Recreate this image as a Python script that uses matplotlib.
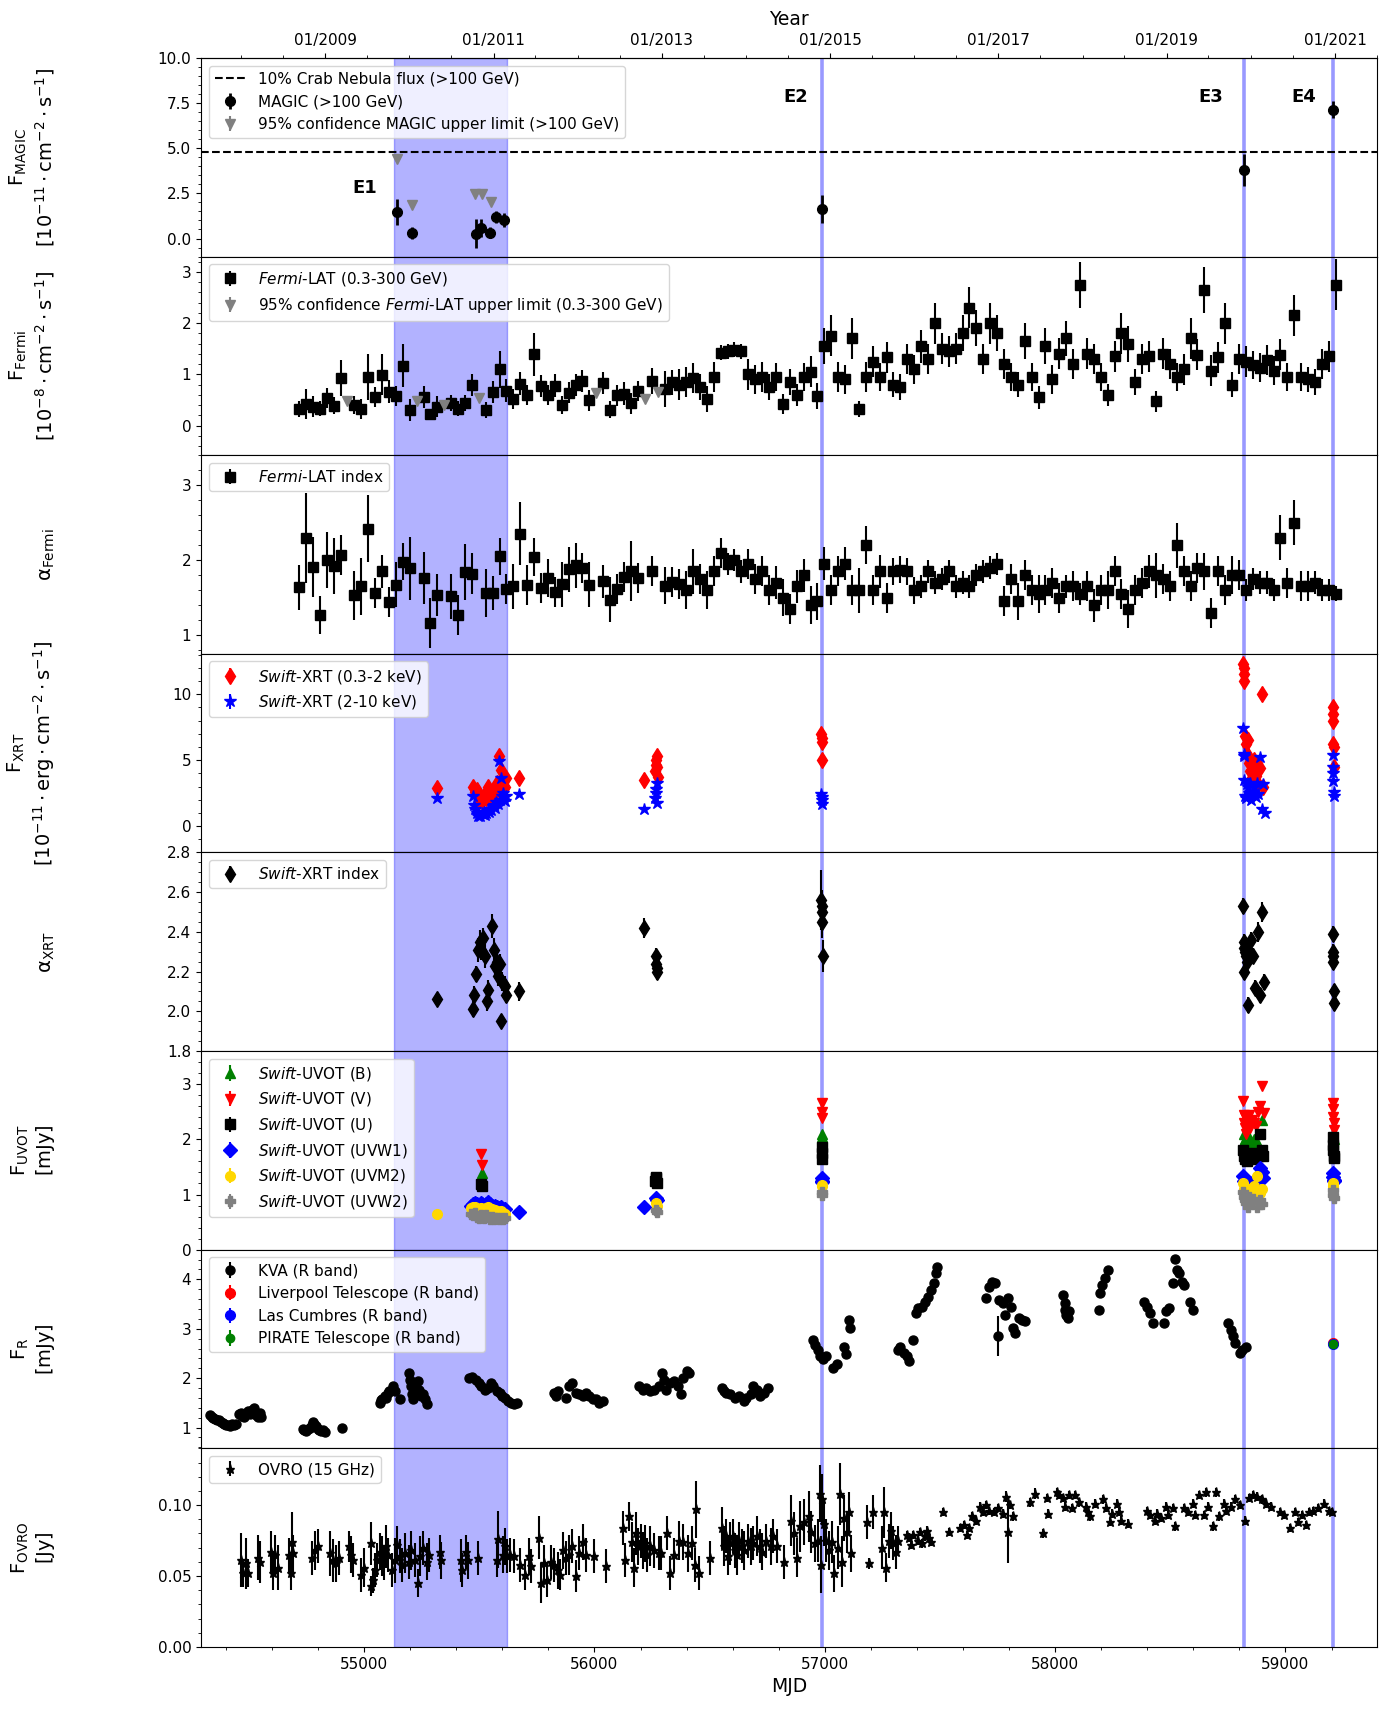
import datetime
import matplotlib
matplotlib.use("Agg")
import matplotlib.pyplot as plt
from matplotlib.ticker import AutoMinorLocator, MultipleLocator, FormatStrFormatter

plt.rcParams['font.family'] = ['DejaVu Sans']
plt.rcParams['font.size'] = 11
plt.rcParams['mathtext.fontset'] = 'dejavusans'

# ---------------- flare periods ----------------
e1_start, e1_end = 55130, 55621
event_mjd = [56990, 58819, 59208]
event_labels = ['E1', 'E2', 'E3', 'E4']
event_label_mjd = [55003, 56876, 58677, 59078]
event_label_y = [2.8, 7.82, 7.82, 7.82]

# ---------------- MAGIC ----------------
crab_10pct = 4.78
magic_mjd = [55145, 55210, 55484, 55507, 55546, 55571, 55606, 56987, 58819, 59208]
magic_flux = [1.48, 0.31, 0.26, 0.59, 0.31, 1.20, 1.01, 1.64, 3.80, 7.14]
magic_err = [0.73, 0.35, 0.80, 0.50, 0.30, 0.35, 0.40, 0.77, 0.90, 0.45]
magic_ul_mjd = [55145, 55210, 55483, 55510, 55550]
magic_ul = [4.41, 1.88, 2.44, 2.44, 2.03]

# ---------------- Fermi-LAT (monthly bins) ----------------
fermi_mjd = [54718, 54748, 54778, 54808, 54838, 54868, 54898, 54958, 54988, 55018,
             55048, 55078, 55108, 55138, 55168, 55198, 55258, 55288, 55318, 55378,
             55408, 55438, 55468, 55528, 55558, 55588, 55618, 55648, 55678, 55708,
             55738, 55768, 55798, 55828, 55858, 55888, 55918, 55948, 55978, 56038,
             56068, 56098, 56128, 56158, 56188, 56248, 56308, 56338, 56368, 56398,
             56428,
             56458, 56488, 56518, 56548, 56578, 56608, 56638, 56668, 56698, 56728,
             56758, 56788, 56818, 56848, 56878, 56908, 56938, 56968, 56998, 57028,
             57058, 57088, 57118, 57148, 57178, 57208, 57238, 57268, 57298, 57328,
             57358, 57388, 57418, 57448, 57478, 57508, 57538, 57568, 57598, 57628,
             57658, 57688, 57718, 57748, 57778, 57808, 57838, 57868, 57898, 57928,
             57958, 57988, 58018, 58048, 58078, 58108, 58138, 58168, 58198, 58228,
             58258, 58288, 58318, 58348, 58378, 58408, 58438, 58468, 58498, 58528,
             58558, 58588, 58618, 58648, 58678, 58708, 58738, 58768, 58798, 58828,
             58858, 58888, 58918, 58948, 58978, 59008, 59038, 59068, 59098, 59128,
             59158, 59188, 59218]
fermi_flux = [0.32, 0.42, 0.37, 0.33, 0.54, 0.39, 0.93, 0.40, 0.32, 0.95,
              0.56, 0.99, 0.66, 0.58, 1.17, 0.30, 0.56, 0.22, 0.37, 0.44,
              0.33, 0.44, 0.79, 0.30, 0.65, 1.10, 0.68, 0.52, 0.82, 0.60,
              1.39, 0.77, 0.60, 0.78, 0.40, 0.64, 0.79, 0.87, 0.49, 0.83,
              0.31, 0.59, 0.62, 0.43, 0.67, 0.87, 0.72, 0.84, 0.80, 0.85,
              0.93,
              0.75, 0.52, 0.95, 1.42, 1.45, 1.48, 1.45, 1.00, 0.90, 0.95,
              0.75, 0.95, 0.42, 0.85, 0.60, 0.95, 1.05, 0.58, 1.55, 1.75,
              0.95, 0.90, 1.70, 0.32, 0.95, 1.25, 0.95, 1.33, 0.80, 0.75,
              1.30, 1.10, 1.55, 1.30, 2.00, 1.50, 1.45, 1.50, 1.80, 2.30,
              1.90, 1.30, 2.00, 1.80, 1.20, 0.95, 0.80, 1.65, 0.95, 0.55,
              1.55, 0.90, 1.40, 1.70, 1.20, 2.75, 1.40, 1.30, 0.95, 0.60,
              1.35, 1.80, 1.60, 0.85, 1.30, 1.35, 0.47, 1.40, 1.20, 0.95,
              1.10, 1.70, 1.38, 2.65, 1.07, 1.33, 2.00, 0.80, 1.30, 1.25,
              1.18, 1.13, 1.28, 1.07, 1.38, 0.95, 2.15, 0.95, 0.90, 0.85,
              1.20, 1.35, 2.75]
fermi_flux_err = [0.16, 0.30, 0.20, 0.15, 0.20, 0.16, 0.35, 0.18, 0.20, 0.45,
                  0.20, 0.40, 0.22, 0.20, 0.42, 0.22, 0.22, 0.10, 0.20, 0.16,
                  0.15, 0.16, 0.22, 0.15, 0.22, 0.36, 0.22, 0.20, 0.22, 0.20,
                  0.42, 0.22, 0.20, 0.22, 0.18, 0.20, 0.22, 0.22, 0.20, 0.22,
                  0.16, 0.20, 0.22, 0.20, 0.20, 0.25, 0.35, 0.25, 0.30, 0.30,
                  0.30,
                  0.25, 0.25, 0.30, 0.15, 0.15, 0.15, 0.15, 0.30, 0.28, 0.30,
                  0.25, 0.28, 0.20, 0.25, 0.22, 0.28, 0.30, 0.25, 0.35, 0.40,
                  0.30, 0.28, 0.40, 0.15, 0.30, 0.30, 0.28, 0.30, 0.25, 0.25,
                  0.30, 0.28, 0.32, 0.30, 0.40, 0.30, 0.30, 0.30, 0.35, 0.40,
                  0.35, 0.30, 0.40, 0.35, 0.30, 0.28, 0.25, 0.35, 0.28, 0.22,
                  0.35, 0.28, 0.30, 0.35, 0.30, 0.45, 0.30, 0.30, 0.28, 0.22,
                  0.30, 0.40, 0.35, 0.25, 0.30, 0.30, 0.20, 0.30, 0.30, 0.28,
                  0.30, 0.40, 0.30, 0.45, 0.30, 0.30, 0.40, 0.25, 0.30, 0.30,
                  0.28, 0.28, 0.30, 0.28, 0.30, 0.28, 0.40, 0.28, 0.25, 0.25,
                  0.30, 0.30, 0.50]
fermi_ul_mjd = [54928, 55228, 55348, 55498, 56008, 56218, 56278]
fermi_ul = [0.47, 0.47, 0.40, 0.54, 0.64, 0.51, 0.66]
fermi_index = [1.64, 2.30, 1.91, 1.27, 2.00, 1.92, 2.07, 1.53, 1.65, 2.42,
               1.56, 1.85, 1.44, 1.67, 1.98, 1.89, 1.76, 1.16, 1.53, 1.52,
               1.27, 1.84, 1.82, 1.56, 1.56, 2.05, 1.61, 1.65, 2.35, 1.67,
               2.04, 1.63, 1.76, 1.58, 1.68, 1.88, 1.93, 1.90, 1.67, 1.72,
               1.47, 1.62, 1.78, 1.85, 1.76, 1.86, 1.66, 1.71, 1.68, 1.60,
               1.85,
               1.75, 1.60, 1.85, 2.10, 1.95, 2.00, 1.85, 1.95, 1.75, 1.85,
               1.60, 1.70, 1.50, 1.35, 1.65, 1.80, 1.40, 1.45, 1.95, 1.60,
               1.85, 1.95, 1.60, 1.60, 2.20, 1.60, 1.85, 1.50, 1.85, 1.87,
               1.85, 1.60, 1.65, 1.85, 1.70, 1.75, 1.85, 1.65, 1.70, 1.65,
               1.80, 1.85, 1.90, 1.95, 1.45, 1.75, 1.45, 1.80, 1.60, 1.55,
               1.60, 1.70, 1.50, 1.65, 1.65, 1.55, 1.65, 1.40, 1.60, 1.60,
               1.85, 1.55, 1.35, 1.60, 1.70, 1.85, 1.80, 1.75, 1.65, 2.20,
               1.85, 1.65, 1.90, 1.85, 1.30, 1.85, 1.60, 1.80, 1.80, 1.60,
               1.75, 1.70, 1.70, 1.60, 2.30, 1.70, 2.50, 1.65, 1.65, 1.70,
               1.60, 1.60, 1.55]
fermi_index_err = [0.30, 0.60, 0.40, 0.25, 0.37, 0.37, 0.27, 0.33, 0.38, 0.45,
                   0.20, 0.22, 0.20, 0.30, 0.25, 0.42, 0.35, 0.33, 0.28, 0.30,
                   0.27, 0.37, 0.27, 0.32, 0.23, 0.25, 0.20, 0.30, 0.42, 0.27,
                   0.25, 0.20, 0.25, 0.20, 0.30, 0.30, 0.30, 0.20, 0.30, 0.22,
                   0.30, 0.20, 0.20, 0.40, 0.20, 0.20, 0.25, 0.20, 0.20, 0.25,
                   0.30,
                   0.20, 0.25, 0.20, 0.20, 0.15, 0.15, 0.15, 0.20, 0.20, 0.20,
                   0.20, 0.22, 0.25, 0.20, 0.22, 0.22, 0.25, 0.25, 0.22, 0.20,
                   0.20, 0.22, 0.20, 0.30, 0.25, 0.20, 0.22, 0.20, 0.18, 0.18,
                   0.18, 0.18, 0.15, 0.15, 0.15, 0.15, 0.15, 0.15, 0.15, 0.15,
                   0.15, 0.15, 0.15, 0.15, 0.20, 0.20, 0.25, 0.20, 0.20, 0.25,
                   0.20, 0.20, 0.20, 0.15, 0.20, 0.15, 0.20, 0.22, 0.20, 0.25,
                   0.20, 0.20, 0.25, 0.20, 0.20, 0.22, 0.30, 0.20, 0.20, 0.30,
                   0.20, 0.20, 0.20, 0.25, 0.20, 0.20, 0.20, 0.25, 0.20, 0.15,
                   0.15, 0.15, 0.15, 0.15, 0.30, 0.20, 0.30, 0.20, 0.20, 0.15,
                   0.15, 0.15, 0.10]

# ---------------- Swift-XRT ----------------
xrt_flux_err = 0.15
xrt_soft_mjd = [55317, 55474, 55481, 55489, 55495, 55501, 55507, 55513, 55519, 55525,
                55531, 55540, 55546, 55552, 55558, 55563, 55567, 55571, 55577, 55582,
                55587, 55590, 55594, 55599, 55604, 55610, 55616, 55672, 56217, 56265,
                56267, 56269, 56270, 56272, 56274, 56984, 56986, 56988, 56990, 58816,
                58818, 58820, 58822, 58825, 58829, 58833, 58837, 58842, 58847, 58852,
                58858, 58864, 58870, 58876, 58882, 58889, 58896, 58903, 59205, 59206,
                59207, 59208, 59209, 59210]
xrt_soft = [2.88, 2.95, 2.60, 2.75, 2.30, 1.90, 2.10, 1.87, 2.20, 2.40,
            2.10, 3.00, 2.50, 2.25, 2.60, 2.80, 2.50, 3.00, 3.25, 2.90,
            5.28, 3.10, 4.27, 3.40, 3.26, 3.00, 3.64, 3.64, 3.46, 4.20,
            4.60, 5.00, 5.28, 4.50, 3.70, 7.00, 6.70, 6.40, 5.00, 12.3,
            12.0, 11.5, 11.0, 6.80, 6.20, 5.50, 6.50, 4.80, 4.20, 3.60,
            4.50, 5.00, 3.80, 4.80, 3.20, 4.40, 10.0, 3.00, 9.00, 8.50,
            8.00, 6.20, 6.00, 4.50]
xrt_hard_mjd = [55317, 55474, 55478, 55483, 55489, 55494, 55500, 55505, 55510, 55515,
                55520, 55525, 55530, 55536, 55542, 55548, 55553, 55558, 55563, 55568,
                55574, 55580, 55587, 55590, 55594, 55599, 55604, 55610, 55616, 55672,
                56217, 56265, 56267, 56269, 56270, 56272, 56984, 56986, 56988, 56990,
                58816, 58818, 58820, 58822, 58825, 58829, 58833, 58837, 58842, 58847,
                58852, 58858, 58864, 58870, 58876, 58882, 58889, 58896, 58903, 58912,
                59205, 59206, 59207, 59208, 59209, 59210]
xrt_hard = [2.12, 2.25, 1.62, 1.30, 0.98, 0.75, 0.85, 0.73, 1.00, 0.90,
            1.10, 0.86, 1.00, 1.24, 1.10, 1.30, 1.20, 1.49, 1.60, 1.40,
            1.80, 1.70, 4.90, 2.00, 3.64, 2.25, 2.50, 1.87, 2.30, 2.45,
            1.29, 2.10, 2.50, 2.80, 3.26, 1.75, 2.40, 2.00, 1.70, 2.20,
            7.40, 5.50, 5.30, 3.50, 2.30, 2.10, 3.20, 3.00, 2.50, 3.30,
            2.00, 2.60, 3.00, 2.20, 3.30, 2.40, 5.20, 1.30, 3.20, 1.00,
            5.40, 4.50, 4.00, 3.40, 2.60, 2.30]
xrt_idx_mjd = [55317, 55474, 55478, 55486, 55493, 55503, 55509, 55517, 55523, 55532,
               55536, 55556, 55563, 55567, 55575, 55583, 55590, 55598, 55596, 55610,
               55618, 55672, 56217, 56267, 56269, 56270, 56272, 56984, 56986, 56988,
               56990, 56992, 58816, 58818, 58820, 58822, 58825, 58829, 58833, 58837,
               58842, 58850, 58858, 58866, 58880, 58890, 58900, 58906, 59205, 59206,
               59207, 59208, 59209, 59210]
xrt_idx = [2.06, 2.01, 2.08, 2.19, 2.31, 2.35, 2.31, 2.37, 2.28, 2.05,
           2.11, 2.43, 2.31, 2.23, 2.25, 2.18, 2.24, 2.15, 1.95, 2.13,
           2.08, 2.10, 2.42, 2.28, 2.24, 2.20, 2.22, 2.56, 2.53, 2.50,
           2.45, 2.28, 2.53, 2.35, 2.32, 2.20, 2.30, 2.28, 2.25, 2.03,
           2.30, 2.36, 2.28, 2.12, 2.40, 2.08, 2.50, 2.15, 2.39, 2.30,
           2.28, 2.25, 2.10, 2.04]
xrt_idx_err = [0.03, 0.04, 0.05, 0.04, 0.06, 0.06, 0.05, 0.05, 0.06, 0.05,
               0.05, 0.06, 0.06, 0.05, 0.06, 0.05, 0.05, 0.05, 0.03, 0.05,
               0.04, 0.05, 0.05, 0.04, 0.04, 0.04, 0.04, 0.15, 0.08, 0.08,
               0.08, 0.08, 0.04, 0.04, 0.04, 0.04, 0.04, 0.04, 0.04, 0.04,
               0.04, 0.04, 0.04, 0.04, 0.05, 0.04, 0.05, 0.04, 0.04, 0.04,
               0.04, 0.04, 0.04, 0.04]

# ---------------- Swift-UVOT ----------------
uvot_err = 0.05
uvot_b_mjd = [55510, 56988, 56990, 58818, 58822, 58826, 58832, 58840, 58850, 58862,
              58876, 58900, 59207, 59209]
uvot_b = [1.39, 2.10, 2.05, 2.10, 1.95, 2.00, 1.98, 2.05, 1.90, 2.00,
          1.95, 2.35, 2.10, 2.00]
uvot_v_mjd = [55508, 55512, 56986, 56988, 56990, 58816, 58818, 58820, 58823, 58826,
              58830, 58835, 58840, 58848, 58855, 58862, 58870, 58880, 58890, 58900,
              58905, 59205, 59206, 59207, 59209, 59210]
uvot_v = [1.73, 1.54, 2.66, 2.50, 2.38, 2.70, 2.45, 2.30, 2.20, 2.40,
          2.10, 2.30, 2.45, 2.20, 2.35, 2.30, 2.25, 2.50, 2.60, 2.96,
          2.47, 2.66, 2.55, 2.40, 2.30, 2.17]
uvot_u_mjd = [55508, 55512, 56265, 56267, 56269, 56271, 56986, 56988, 56990, 58816,
              58820, 58824, 58828, 58834, 58840, 58848, 58856, 58864, 58872, 58880,
              58888, 58898, 58904, 59205, 59206, 59207, 59209, 59210]
uvot_u = [1.19, 1.15, 1.25, 1.32, 1.30, 1.20, 1.87, 1.75, 1.65, 1.80,
          1.70, 1.65, 1.75, 1.60, 1.70, 1.68, 1.72, 1.65, 1.75, 1.70,
          2.10, 1.80, 1.70, 2.05, 1.90, 1.80, 1.70, 1.66]
uvot_w1_mjd = [55466, 55474, 55482, 55490, 55498, 55506, 55514, 55522, 55530, 55538,
               55546, 55554, 55562, 55570, 55578, 55586, 55594, 55602, 55610, 55672,
               56217, 56269, 56271, 56986, 56988, 56990, 58816, 58820, 58824, 58830,
               58838, 58846, 58856, 58866, 58876, 58888, 58898, 58904, 59205, 59207,
               59209, 59210]
uvot_w1 = [0.80, 0.83, 0.85, 0.82, 0.80, 0.84, 0.82, 0.80, 0.83, 0.86,
           0.82, 0.80, 0.78, 0.80, 0.77, 0.76, 0.78, 0.74, 0.73, 0.69,
           0.78, 0.94, 0.90, 1.30, 1.25, 1.22, 1.33, 1.25, 1.20, 1.18,
           1.22, 1.15, 1.20, 1.25, 1.30, 1.48, 1.40, 1.30, 1.39, 1.32,
           1.27, 1.25]
uvot_m2_mjd = [55317, 55466, 55474, 55482, 55490, 55498, 55506, 55514, 55522, 55530,
               55538, 55546, 55554, 55562, 55570, 55578, 55586, 55594, 55602, 55610,
               56269, 56271, 56987, 56989, 58816, 58820, 58826, 58832, 58840, 58850,
               58862, 58876, 58890, 58900, 59206, 59208]
uvot_m2 = [0.65, 0.75, 0.77, 0.78, 0.74, 0.72, 0.76, 0.74, 0.73, 0.75,
           0.78, 0.74, 0.73, 0.71, 0.72, 0.70, 0.68, 0.70, 0.66, 0.65,
           0.85, 0.80, 1.18, 1.15, 1.20, 1.10, 1.05, 1.00, 1.10, 1.05,
           1.15, 1.33, 1.03, 1.10, 1.20, 1.15]
uvot_w2_mjd = [55466, 55474, 55482, 55490, 55498, 55506, 55514, 55522, 55530, 55538,
               55546, 55554, 55562, 55570, 55578, 55586, 55594, 55602, 55610, 56269,
               56271, 56987, 56989, 58816, 58820, 58824, 58830, 58836, 58842, 58850,
               58860, 58876, 58888, 58900, 59206, 59208, 59210]
uvot_w2 = [0.64, 0.62, 0.66, 0.60, 0.58, 0.63, 0.60, 0.57, 0.62, 0.59,
           0.56, 0.60, 0.55, 0.58, 0.57, 0.55, 0.58, 0.56, 0.57, 0.72,
           0.68, 1.05, 1.00, 1.05, 0.95, 0.90, 0.85, 0.78, 0.95, 0.88,
           0.92, 0.78, 0.90, 0.82, 1.09, 1.00, 0.94]

# ---------------- optical R band ----------------
kva_err = 0.03
kva_mjd = [54330, 54338, 54346, 54354, 54362, 54370, 54378, 54386, 54394, 54402,
           54410, 54418, 54426, 54434, 54442,
           54456, 54464, 54472, 54480, 54488, 54496, 54504, 54512, 54520, 54526,
           54532, 54540, 54546, 54552,
           54733, 54740, 54748, 54756, 54764, 54772, 54778, 54784, 54790, 54798,
           54806, 54814, 54822, 54830, 54902,
           55067, 55072, 55077, 55090, 55096, 55102, 55110, 55125, 55135, 55158,
           55193, 55199, 55203, 55207, 55212, 55222, 55232, 55238, 55245, 55257,
           55265, 55274,
           55455, 55470, 55484, 55497, 55509, 55523, 55536, 55552, 55561, 55575,
           55590, 55600, 55610, 55625, 55639, 55652, 55664,
           55823, 55833, 55843, 55877, 55891, 55904, 55920, 55935, 55949, 55963,
           55978, 55994, 56007, 56021, 56036,
           56195, 56211, 56226, 56240, 56259, 56279, 56292, 56304, 56312, 56327,
           56347, 56362, 56376, 56385, 56401, 56409,
           56552, 56561, 56571, 56590, 56610, 56629, 56649, 56658, 56678, 56687,
           56707, 56717, 56736, 56755,
           56949, 56959, 56969, 56978, 56994, 57007, 57036, 57052, 57085, 57091,
           57104, 57110,
           57318, 57327, 57343, 57356, 57366, 57385, 57395, 57405, 57420, 57434,
           57447, 57463, 57473, 57482, 57488,
           57699, 57711, 57725, 57738, 57758, 57773, 57783, 57796, 57808, 57816,
           57827, 57841, 57855, 57870,
           58035, 58041, 58045, 58048, 58054, 58060,
           58190, 58196, 58204, 58215, 58229,
           58384, 58397, 58413, 58425, 58471, 58481, 58494,
           58510, 58520, 58529, 58539, 58549, 58558, 58584, 58597,
           58752, 58762, 58772, 58781, 58801, 58810, 58830]
kva_flux = [1.25, 1.22, 1.20, 1.17, 1.15, 1.16, 1.12, 1.10, 1.08, 1.06,
            1.05, 1.04, 1.07, 1.05, 1.07,
            1.27, 1.30, 1.24, 1.22, 1.30, 1.33, 1.27, 1.36, 1.40, 1.32,
            1.25, 1.22, 1.30, 1.22,
            0.98, 0.95, 0.93, 0.97, 1.00, 1.05, 1.12, 1.08, 1.03, 0.98,
            0.95, 0.93, 0.96, 0.92, 1.00,
            1.50, 1.55, 1.57, 1.64, 1.60, 1.69, 1.74, 1.84, 1.74, 1.58,
            2.10, 1.97, 1.84, 1.67, 1.57, 1.80, 1.94, 1.77, 1.64, 1.67,
            1.57, 1.47,
            2.00, 2.02, 1.97, 1.90, 1.84, 1.77, 1.80, 1.90, 1.84, 1.74,
            1.70, 1.64, 1.60, 1.54, 1.50, 1.47, 1.50,
            1.70, 1.64, 1.74, 1.60, 1.84, 1.90, 1.70, 1.67, 1.64, 1.70,
            1.64, 1.58, 1.57, 1.50, 1.54,
            1.84, 1.77, 1.80, 1.74, 1.77, 1.84, 2.10, 1.97, 1.77, 1.90,
            1.94, 1.84, 1.67, 2.00, 2.14, 2.10,
            1.80, 1.74, 1.70, 1.67, 1.60, 1.64, 1.54, 1.60, 1.67, 1.84,
            1.77, 1.64, 1.70, 1.80,
            2.78, 2.68, 2.58, 2.44, 2.38, 2.44, 2.21, 2.28, 2.64, 2.48,
            3.18, 3.01,
            2.58, 2.64, 2.51, 2.44, 2.34, 2.78, 3.32, 3.42, 3.45, 3.55,
            3.65, 3.79, 3.92, 4.12, 4.26,
            3.62, 3.85, 3.95, 3.92, 3.58, 3.52, 3.28, 3.62, 3.45, 3.01,
            2.91, 3.21, 3.18, 3.15,
            3.68, 3.52, 3.38, 3.28, 3.21, 3.35,
            3.38, 3.72, 3.89, 4.02, 4.19,
            3.55, 3.45, 3.32, 3.11, 3.11, 3.35, 3.42,
            3.92, 4.42, 4.19, 4.12, 3.95, 3.89, 3.55, 3.38,
            3.11, 2.98, 2.85, 2.71, 2.51, 2.58, 2.64]
kva_wide_mjd = [57750]
kva_wide = [2.85]
kva_wide_err = [0.40]
liverpool_mjd, liverpool = [59205], [2.72]
lco_mjd, lco = [59205], [2.70]
pirate_mjd, pirate = [59206], [2.69]

# ---------------- OVRO 15 GHz ----------------
ovro_mjd = [54466, 54476, 54489, 54497, 54538, 54549, 54594, 54606, 54615, 54625,
            54675, 54683, 54689, 54693, 54772, 54786, 54799, 54854, 54863, 54877,
            54893, 54935, 54943, 54951, 54986, 54999, 55028, 55032, 55038, 55048,
            55057, 55067, 55077, 55086, 55096, 55106, 55121, 55135, 55145, 55154,
            55164, 55179, 55193, 55203, 55222, 55232, 55242, 55257, 55271, 55280,
            55329, 55333, 55420, 55426, 55441, 55451, 55493, 55575, 55583, 55602,
            55610, 55622, 55633, 55649, 55678, 55697, 55716, 55726, 55759, 55769,
            55780, 55794, 55813, 55823, 55843, 55852, 55862, 55877, 55891, 55904,
            55920, 55935, 55949, 55963, 55998, 56052, 56124, 56133, 56149, 56162,
            56172, 56182, 56191, 56201, 56211, 56221, 56230, 56240, 56259, 56279,
            56288, 56317, 56327, 56347, 56366, 56385, 56405, 56424,
            56435, 56439, 56455, 56503, 56552, 56561, 56571, 56581, 56590, 56600,
            56610, 56620, 56629, 56639, 56649, 56668, 56678, 56687, 56707, 56717,
            56726, 56746, 56765, 56775, 56794, 56823, 56852, 56866, 56881, 56891,
            56910, 56930, 56939, 56959, 56969, 56978, 56982, 56988, 56998, 57007,
            57017, 57033, 57040, 57056, 57066, 57075, 57085, 57095, 57104, 57114,
            57182, 57192, 57211, 57250, 57256, 57265, 57279, 57288, 57298, 57308,
            57318, 57356, 57366, 57376, 57385, 57405, 57414, 57424, 57434, 57444,
            57453, 57463, 57515, 57540, 57589, 57603, 57618, 57628, 57641, 57657,
            57672, 57686, 57699, 57715, 57734, 57754, 57773, 57785, 57796, 57804,
            57816, 57893, 57913, 57948, 57963, 57967, 58006, 58016, 58035, 58045,
            58060, 58074, 58087, 58103, 58132, 58142, 58151, 58171, 58209, 58219,
            58238, 58248, 58268, 58277, 58287, 58316, 58397, 58413, 58432, 58442,
            58461, 58481, 58490, 58510, 58520, 58558, 58578, 58597, 58607, 58626,
            58646, 58655, 58665, 58684, 58700, 58713, 58733, 58743, 58762, 58781,
            58801, 58824, 58840, 58859, 58878, 58898, 58917, 58936, 58975, 58995,
            59018, 59043, 59053, 59072, 59088, 59101, 59121, 59140, 59169, 59188,
            59204]
ovro_flux = [0.061, 0.052, 0.059, 0.052, 0.063, 0.060, 0.067, 0.052, 0.065, 0.056,
             0.065, 0.052, 0.074, 0.066, 0.063, 0.068, 0.071, 0.066, 0.061, 0.059,
             0.063, 0.071, 0.065, 0.061, 0.051, 0.056, 0.073, 0.043, 0.047, 0.054,
             0.061, 0.067, 0.064, 0.059, 0.071, 0.065, 0.054, 0.061, 0.072, 0.064,
             0.058, 0.066, 0.060, 0.068, 0.061, 0.045, 0.064, 0.070, 0.060, 0.065,
             0.067, 0.061, 0.061, 0.054, 0.067, 0.061, 0.063, 0.061, 0.076, 0.065,
             0.071, 0.064, 0.065, 0.064, 0.058, 0.051, 0.064, 0.057, 0.077, 0.045,
             0.059, 0.047, 0.060, 0.058, 0.054, 0.051, 0.068, 0.063, 0.065, 0.071,
             0.050, 0.066, 0.074, 0.065, 0.064, 0.057, 0.084, 0.061, 0.092, 0.074,
             0.056, 0.080, 0.071, 0.075, 0.068, 0.073, 0.065, 0.071, 0.068, 0.066,
             0.066, 0.080, 0.052, 0.065, 0.075, 0.074, 0.066, 0.073,
             0.058, 0.097, 0.052, 0.063, 0.084, 0.071, 0.078, 0.064, 0.073, 0.078,
             0.068, 0.065, 0.075, 0.071, 0.068, 0.075, 0.071, 0.073, 0.078, 0.071,
             0.067, 0.075, 0.071, 0.078, 0.071, 0.060, 0.089, 0.080, 0.063, 0.085,
             0.088, 0.092, 0.081, 0.073, 0.075, 0.108, 0.058, 0.104, 0.087, 0.075,
             0.068, 0.074, 0.052, 0.070, 0.108, 0.060, 0.091, 0.081, 0.095, 0.066,
             0.088, 0.059, 0.095, 0.070, 0.095, 0.056, 0.075, 0.082, 0.073, 0.067,
             0.075, 0.079, 0.077, 0.072, 0.079, 0.075, 0.081, 0.073, 0.078, 0.082,
             0.077, 0.074, 0.095, 0.081, 0.084, 0.086, 0.079, 0.084, 0.092, 0.089,
             0.099, 0.095, 0.100, 0.096, 0.095, 0.098, 0.094, 0.106, 0.081, 0.100,
             0.092, 0.102, 0.108, 0.080, 0.105, 0.094, 0.109, 0.107, 0.105, 0.099,
             0.107, 0.098, 0.107, 0.102, 0.099, 0.095, 0.092, 0.101, 0.104, 0.098,
             0.088, 0.094, 0.101, 0.095, 0.089, 0.087, 0.096, 0.093, 0.089, 0.094,
             0.091, 0.099, 0.093, 0.098, 0.085, 0.098, 0.095, 0.101, 0.093, 0.107,
             0.093, 0.109, 0.099, 0.085, 0.109, 0.092, 0.101, 0.096, 0.099, 0.104,
             0.100, 0.089, 0.105, 0.107, 0.106, 0.104, 0.101, 0.099, 0.095, 0.093,
             0.084, 0.095, 0.088, 0.093, 0.086, 0.095, 0.096, 0.098, 0.101, 0.096,
             0.095]
ovro_err = [0.019, 0.010, 0.018, 0.010, 0.016, 0.015, 0.015, 0.012, 0.014, 0.016,
            0.012, 0.012, 0.021, 0.013, 0.012, 0.014, 0.012, 0.016, 0.015, 0.013,
            0.012, 0.011, 0.013, 0.012, 0.012, 0.014, 0.015, 0.007, 0.009, 0.012,
            0.012, 0.013, 0.014, 0.012, 0.015, 0.012, 0.012, 0.016, 0.013, 0.012,
            0.012, 0.014, 0.012, 0.014, 0.012, 0.010, 0.014, 0.012, 0.013, 0.012,
            0.012, 0.013, 0.015, 0.012, 0.012, 0.013, 0.012, 0.012, 0.020, 0.013,
            0.013, 0.012, 0.012, 0.012, 0.012, 0.011, 0.013, 0.012, 0.015, 0.014,
            0.013, 0.012, 0.012, 0.012, 0.013, 0.011, 0.013, 0.012, 0.014, 0.012,
            0.011, 0.012, 0.013, 0.012, 0.012, 0.012, 0.012, 0.012, 0.010, 0.014,
            0.014, 0.015, 0.013, 0.012, 0.013, 0.013, 0.012, 0.014, 0.012, 0.012,
            0.012, 0.012, 0.012, 0.012, 0.014, 0.013, 0.013, 0.012,
            0.012, 0.020, 0.012, 0.012, 0.015, 0.014, 0.012, 0.013, 0.015, 0.012,
            0.012, 0.014, 0.013, 0.012, 0.014, 0.012, 0.013, 0.012, 0.014, 0.012,
            0.013, 0.012, 0.013, 0.012, 0.012, 0.012, 0.018, 0.015, 0.014, 0.018,
            0.016, 0.018, 0.015, 0.013, 0.015, 0.020, 0.020, 0.018, 0.016, 0.015,
            0.014, 0.015, 0.013, 0.015, 0.022, 0.018, 0.016, 0.015, 0.014, 0.013,
            0.012, 0.004, 0.012, 0.015, 0.018, 0.010, 0.012, 0.013, 0.012, 0.012,
            0.010, 0.003, 0.003, 0.003, 0.003, 0.003, 0.003, 0.003, 0.003, 0.003,
            0.003, 0.003, 0.003, 0.003, 0.003, 0.003, 0.003, 0.003, 0.003, 0.003,
            0.003, 0.003, 0.003, 0.003, 0.003, 0.003, 0.003, 0.004, 0.022, 0.003,
            0.003, 0.003, 0.004, 0.003, 0.003, 0.003, 0.003, 0.003, 0.003, 0.003,
            0.003, 0.003, 0.003, 0.003, 0.003, 0.003, 0.003, 0.003, 0.003, 0.003,
            0.003, 0.003, 0.003, 0.003, 0.003, 0.003, 0.003, 0.003, 0.003, 0.003,
            0.003, 0.003, 0.003, 0.003, 0.003, 0.003, 0.003, 0.003, 0.003, 0.003,
            0.003, 0.003, 0.003, 0.003, 0.003, 0.003, 0.003, 0.003, 0.003, 0.003,
            0.003, 0.003, 0.003, 0.003, 0.003, 0.003, 0.003, 0.003, 0.003, 0.003,
            0.003, 0.003, 0.003, 0.003, 0.003, 0.003, 0.003, 0.003, 0.003, 0.003,
            0.003]


def mjd_of(year, month):
    return (datetime.date(year, month, 1) - datetime.date(1858, 11, 17)).days


year_ticks = [mjd_of(y, 1) for y in range(2009, 2022, 2)]
year_labels = ['01/%d' % y for y in range(2009, 2022, 2)]
half_year_ticks = [mjd_of(y, m) for y in range(2008, 2022) for m in (1, 7)]

fig, axes = plt.subplots(8, 1, sharex=True, figsize=(13.9, 17.09), dpi=100)
fig.subplots_adjust(left=0.1446, right=0.9906, top=0.9661, bottom=0.0363, hspace=0)

eb = dict(ls='none', capsize=0)

for ax in axes:
    ax.axvspan(e1_start, e1_end, color='blue', alpha=0.3, zorder=0)
    for x in event_mjd:
        ax.axvline(x, color='blue', alpha=0.4, lw=2.6, zorder=0)
    ax.tick_params(axis='x', which='both', bottom=False)
    ax.yaxis.set_label_coords(-0.1224, 0.5)

# MAGIC
ax = axes[0]
ax.axhline(crab_10pct, color='black', ls='--', lw=1.5, label='10% Crab Nebula flux (>100 GeV)')
ax.errorbar(magic_mjd, magic_flux, yerr=magic_err, fmt='o', color='black', ms=7,
            elinewidth=2, label='MAGIC (>100 GeV)', **eb)
ax.errorbar(magic_ul_mjd, magic_ul, yerr=0, fmt='v', color='gray', ms=7,
            label='95% confidence MAGIC upper limit (>100 GeV)', **eb)
for lab, x, y in zip(event_labels, event_label_mjd, event_label_y):
    ax.text(x, y, lab, ha='center', va='center', fontsize=13, fontweight='bold')
ax.set_ylim(-1, 10)
ax.yaxis.set_major_locator(MultipleLocator(2.5))
ax.yaxis.set_major_formatter(FormatStrFormatter('%.1f'))
ax.set_ylabel('$\\mathrm{F_{MAGIC}}$\n$[10^{-11}\\cdot\\mathrm{cm^{-2}}\\cdot\\mathrm{s^{-1}}]$',
              fontsize=14)

top = ax.secondary_xaxis('top')
top.set_xticks(year_ticks, year_labels)
top.set_xticks(half_year_ticks, minor=True)
top.set_xlabel('Year', fontsize=13.5, labelpad=6)

# Fermi flux
ax = axes[1]
ax.errorbar(fermi_mjd, fermi_flux, yerr=fermi_flux_err, fmt='s', color='black', ms=6.5,
            elinewidth=1.5, label='$\\it{Fermi}$-LAT (0.3-300 GeV)', **eb)
ax.errorbar(fermi_ul_mjd, fermi_ul, yerr=0, fmt='v', color='gray', ms=7,
            label='95% confidence $\\it{Fermi}$-LAT upper limit (0.3-300 GeV)', **eb)
ax.set_ylim(-0.58, 3.3)
ax.yaxis.set_major_locator(MultipleLocator(1))
ax.set_ylabel('$\\mathrm{F_{Fermi}}$\n$[10^{-8}\\cdot\\mathrm{cm^{-2}}\\cdot\\mathrm{s^{-1}}]$',
              fontsize=14)

# Fermi index
ax = axes[2]
ax.errorbar(fermi_mjd, fermi_index, yerr=fermi_index_err, fmt='s', color='black', ms=6.5,
            elinewidth=1.5, label='$\\it{Fermi}$-LAT index', **eb)
ax.set_ylim(0.75, 3.4)
ax.yaxis.set_major_locator(MultipleLocator(1))
ax.set_ylabel('$\\mathrm{\\alpha_{Fermi}}$', fontsize=14)

# XRT flux
ax = axes[3]
ax.errorbar(xrt_soft_mjd, xrt_soft, yerr=xrt_flux_err, fmt='d', color='red', ms=8.5,
            label='$\\it{Swift}$-XRT (0.3-2 keV)', **eb)
ax.errorbar(xrt_hard_mjd, xrt_hard, yerr=xrt_flux_err, fmt='*', color='blue', ms=9,
            label='$\\it{Swift}$-XRT (2-10 keV)', **eb)
ax.set_ylim(-2, 13.06)
ax.yaxis.set_major_locator(MultipleLocator(5))
ax.set_ylabel('$\\mathrm{F_{XRT}}$\n'
              '$[10^{-11}\\cdot\\mathrm{erg}\\cdot\\mathrm{cm^{-2}}\\cdot\\mathrm{s^{-1}}]$',
              fontsize=14)

# XRT index
ax = axes[4]
ax.errorbar(xrt_idx_mjd, xrt_idx, yerr=xrt_idx_err, fmt='d', color='black', ms=8.5,
            elinewidth=1.5, label='$\\it{Swift}$-XRT index', **eb)
ax.set_ylim(1.8, 2.8)
ax.yaxis.set_major_locator(MultipleLocator(0.2))
ax.yaxis.set_major_formatter(FormatStrFormatter('%.1f'))
ax.set_ylabel('$\\mathrm{\\alpha_{XRT}}$', fontsize=14)

# UVOT
ax = axes[5]
uvot_sets = [
    (uvot_b_mjd, uvot_b, '^', 'green', 'B'),
    (uvot_v_mjd, uvot_v, 'v', 'red', 'V'),
    (uvot_u_mjd, uvot_u, 's', 'black', 'U'),
    (uvot_w1_mjd, uvot_w1, 'D', 'blue', 'UVW1'),
    (uvot_m2_mjd, uvot_m2, 'o', 'gold', 'UVM2'),
    (uvot_w2_mjd, uvot_w2, 'P', 'gray', 'UVW2'),
]
for xs, ys, mk, col, band in uvot_sets:
    ax.errorbar(xs, ys, yerr=uvot_err, fmt=mk, color=col, ms=7,
                label='$\\it{Swift}$-UVOT (%s)' % band, **eb)
ax.set_ylim(0, 3.6)
ax.yaxis.set_major_locator(MultipleLocator(1))
ax.set_ylabel('$\\mathrm{F_{UVOT}}$\n$[\\mathrm{mJy}]$', fontsize=14)

# optical R band
ax = axes[6]
ax.errorbar(kva_mjd, kva_flux, yerr=kva_err, fmt='o', color='black', ms=6.5,
            label='KVA (R band)', **eb)
ax.errorbar(kva_wide_mjd, kva_wide, yerr=kva_wide_err, fmt='o', color='black', ms=6.5, **eb)
ax.errorbar(liverpool_mjd, liverpool, yerr=kva_err, fmt='o', color='red', ms=7,
            label='Liverpool Telescope (R band)', **eb)
ax.errorbar(lco_mjd, lco, yerr=kva_err, fmt='o', color='blue', ms=7,
            label='Las Cumbres (R band)', **eb)
ax.errorbar(pirate_mjd, pirate, yerr=kva_err, fmt='o', color='green', ms=6,
            label='PIRATE Telescope (R band)', **eb)
ax.set_ylim(0.58, 4.6)
ax.yaxis.set_major_locator(MultipleLocator(1))
ax.set_ylabel('$\\mathrm{F_{R}}$\n$[\\mathrm{mJy}]$', fontsize=14)

# OVRO
ax = axes[7]
ax.errorbar(ovro_mjd, ovro_flux, yerr=ovro_err, fmt='*', color='black', ms=6.5,
            elinewidth=1.5, label='OVRO (15 GHz)', **eb)
ax.set_ylim(0, 0.14)
ax.yaxis.set_major_locator(MultipleLocator(0.05))
ax.yaxis.set_major_formatter(FormatStrFormatter('%.2f'))
ax.set_ylabel('$\\mathrm{F_{OVRO}}$\n$[\\mathrm{Jy}]$', fontsize=14)
ax.tick_params(axis='x', which='both', bottom=True)
ax.xaxis.set_major_locator(MultipleLocator(1000))
ax.xaxis.set_minor_locator(MultipleLocator(200))
ax.set_xlabel('MJD', fontsize=13.5)
ax.set_xlim(54292, 59397)

for ax in axes:
    ax.yaxis.set_minor_locator(AutoMinorLocator())
    ax.legend(loc='upper left', fontsize=11)

fig.savefig('out.png', dpi=100)
